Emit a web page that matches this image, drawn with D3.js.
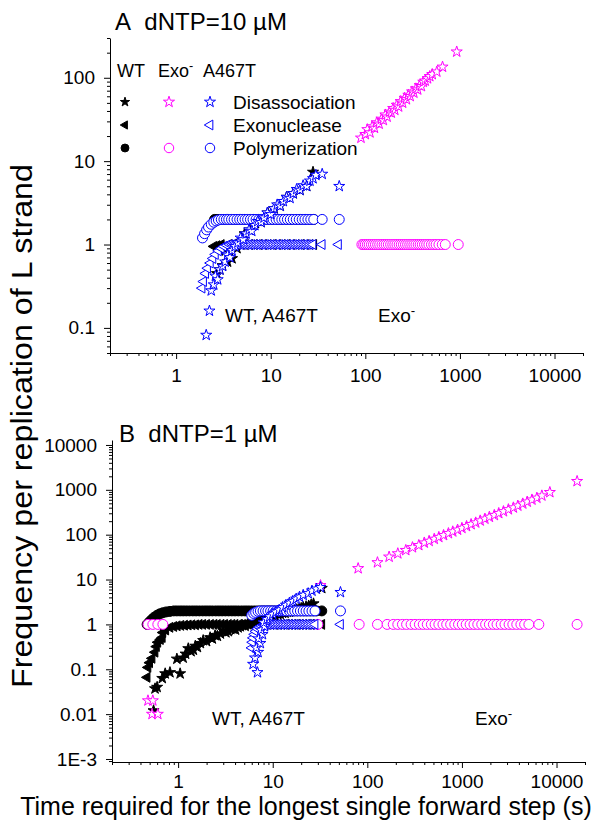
<!DOCTYPE html>
<html>
<head>
<meta charset="utf-8">
<script src="https://cdn.jsdelivr.net/npm/d3@7"></script>
<style>
body { margin: 0; background: #fff; }
svg { display: block; font-family: "Liberation Sans", Arial, sans-serif; }
</style>
</head>
<body>
<svg id="drawing_region"></svg>
<script>
// ---- data: [time (s), frequency per replication] ----
const x_ticks = [1, 10, 100, 1000, 10000];
const a_y_ticks = [0.1, 1, 10, 100];
const b_y_ticks = [0.001, 0.01, 0.1, 1, 10, 100, 1000, 10000];
const b_y_labels = ["1E-3", "0.01", "0.1", "1", "10", "100", "1000", "10000"];

// panel A, dNTP = 10 uM
const a_wt_diss = [[2.7,0.45],[2.9,0.5],[3.1,0.56],[3.5,0.62],[3.9,0.68],[4.4,0.9],[4.9,1.1],[5.3,1.35],[6.0,1.5],[6.9,1.8],[7.9,1.85],[8.6,2.1],[9.3,2.4],[10.9,2.7],[12.6,2.9],[14.7,3.7],[17.3,4.1],[20.4,4.5],[24,5.0],[28,7.4]];
const a_wt_exo = [[2.5,0.95],[2.7,0.97],[2.9,0.85],[3.0,1.0],[3.3,0.9],[3.6,1.0],[4.0,1.0],[4.4,1.0],[4.9,1.0],[5.4,1.0],[6.0,1.0],[6.7,1.0],[7.5,1.0],[8.4,1.0],[9.4,1.0],[10.5,1.0],[11.8,1.0],[13.2,1.0],[14.8,1.0],[16.6,1.0],[18.6,1.0],[20.8,1.0],[23.3,1.0],[26,1.0],[28.5,1.0]];
const a_wt_poly = [[2.55,2.0],[2.7,2.0],[2.9,2.0],[3.2,2.0],[3.5,2.0],[3.9,2.0],[4.3,2.0],[4.8,2.0],[5.3,2.0],[5.9,2.0],[6.6,2.0],[7.4,2.0],[8.3,2.0],[9.3,2.0],[10.4,2.0],[11.7,2.0],[13.1,2.0],[14.7,2.0],[16.5,2.0],[18.5,2.0],[20.7,2.0],[23.2,2.0],[26,2.0],[28.5,2.0]];
const a_exo_diss = [[90,19],[100,21],[105,24],[112,22],[118,26],[125,25],[132,29],[140,28],[148,32],[155,31],[163,36],[170,34],[180,39],[188,38],[197,43],[205,41],[215,47],[225,45],[236,52],[248,50],[260,57],[272,55],[285,62],[298,60],[312,68],[326,66],[342,74],[358,72],[375,81],[392,79],[410,89],[430,92],[455,98],[480,104],[510,110],[570,118],[655,135],[925,205]];
const a_exo_poly = [[92,1],[96,1],[100,1],[105,1],[110,1],[116,1],[122,1],[128,1],[135,1],[142,1],[150,1],[158,1],[166,1],[175,1],[185,1],[195,1],[205,1],[216,1],[228,1],[240,1],[253,1],[266,1],[280,1],[295,1],[310,1],[326,1],[343,1],[362,1],[380,1],[400,1],[422,1],[445,1],[470,1],[500,1],[530,1],[560,1],[600,1],[650,1],[700,1],[960,1]];
const a_mut_diss = [[2.08,0.082],[2.25,0.16],[2.35,0.28],[2.5,0.33],[2.6,0.42],[2.75,0.38],[2.9,0.5],[3.1,0.55],[3.3,0.62],[3.5,0.75],[3.7,0.7],[3.9,0.85],[4.2,0.95],[4.5,1.05],[4.8,1.2],[5.1,1.15],[5.5,1.35],[5.9,1.5],[6.3,1.45],[6.8,1.7],[7.3,1.9],[7.9,1.85],[8.5,2.1],[9.2,2.4],[10,2.3],[10.8,2.7],[11.7,3.0],[12.6,2.9],[13.6,3.3],[14.7,3.7],[16,3.6],[17.3,4.1],[18.8,4.6],[20.4,4.5],[22,5.1],[24,5.0],[26,5.8],[28,6.2],[30,6.8],[35,7.0],[53,5.0]];
const a_mut_exo = [[1.88,0.3],[1.95,0.36],[2.05,0.45],[2.15,0.52],[2.3,0.6],[2.45,0.68],[2.6,0.76],[2.8,0.84],[3.0,0.9],[3.2,0.95],[3.45,0.98],[3.7,1.0],[3.95,1.0],[4.2,1.0],[4.5,1.0],[4.8,1.0],[5.15,1.0],[5.5,1.0],[5.9,1.0],[6.3,1.0],[6.75,1.0],[7.2,1.0],[7.7,1.0],[8.25,1.0],[8.8,1.0],[9.4,1.0],[10.1,1.0],[10.8,1.0],[11.6,1.0],[12.4,1.0],[13.3,1.0],[14.2,1.0],[15.2,1.0],[16.3,1.0],[17.4,1.0],[18.6,1.0],[19.9,1.0],[21.3,1.0],[22.8,1.0],[24.4,1.0],[26.1,1.0],[28,1.0],[35,1.0],[52,1.0]];
const a_mut_poly = [[1.9,1.2],[2.0,1.35],[2.1,1.5],[2.2,1.62],[2.35,1.75],[2.5,1.85],[2.65,1.92],[2.8,1.97],[3.0,2.0],[3.2,2.0],[3.4,2.0],[3.6,2.0],[3.85,2.0],[4.1,2.0],[4.4,2.0],[4.7,2.0],[5.0,2.0],[5.35,2.0],[5.7,2.0],[6.1,2.0],[6.5,2.0],[7.0,2.0],[7.5,2.0],[8.0,2.0],[8.6,2.0],[9.2,2.0],[9.9,2.0],[10.6,2.0],[11.4,2.0],[12.2,2.0],[13.1,2.0],[14.0,2.0],[15.0,2.0],[16.1,2.0],[17.3,2.0],[18.6,2.0],[20,2.0],[21.5,2.0],[23,2.0],[24.7,2.0],[26.5,2.0],[28.5,2.0],[35,2.0],[53,2.0]];

// panel B, dNTP = 1 uM
const b_wt_diss = [[0.55,0.012],[0.57,0.037],[0.6,0.04],[0.68,0.063],[0.73,0.08],[0.82,0.085],[0.97,0.17],[1.05,0.08],[1.13,0.18],[1.2,0.22],[1.28,0.29],[1.37,0.25],[1.45,0.27],[1.52,0.33],[1.6,0.31],[1.72,0.38],[1.84,0.44],[2.0,0.42],[2.18,0.51],[2.3,0.48],[2.46,0.57],[2.6,0.55],[2.8,0.62],[3.0,0.73],[3.2,0.66],[3.4,0.7],[3.6,0.78],[3.8,0.8],[4.05,0.76],[4.3,0.85],[4.55,0.9],[4.8,0.95],[5.1,0.92],[5.4,1.0],[5.7,1.05],[6,1.1],[6.4,1.12],[6.8,1.2],[7.2,1.25],[7.6,1.3],[8.0,1.38],[8.5,1.4],[9.0,1.48],[9.5,1.5],[10.0,1.58],[10.6,1.6],[11.3,1.68],[12,1.7],[12.7,1.8],[13.5,1.8],[14.2,1.9],[15,1.9],[16,2.0],[17,2.0],[18,2.15],[19,2.2],[20,2.3],[21,2.4],[22.5,2.5],[24,2.6],[25.5,2.75],[27,2.9],[33,6.4]];
const b_wt_exo = [[0.47,0.066],[0.48,0.11],[0.5,0.14],[0.53,0.175],[0.57,0.24],[0.59,0.32],[0.61,0.4],[0.65,0.46],[0.68,0.51],[0.69,0.66],[0.74,0.75],[0.82,0.86],[0.9,0.9],[0.98,0.93],[1.07,0.95],[1.17,0.96],[1.28,0.97],[1.4,0.98],[1.53,0.98],[1.67,1.0],[1.82,1.0],[2.0,1.0],[2.2,1.0],[2.4,1.0],[2.6,1.0],[2.85,1.0],[3.1,1.0],[3.4,1.0],[3.7,1.0],[4.0,1.0],[4.4,1.0],[4.8,1.0],[5.2,1.0],[5.7,1.0],[6.2,1.0],[6.8,1.0],[7.4,1.0],[8.1,1.0],[8.8,1.0],[9.6,1.0],[10.5,1.0],[11.5,1.0],[12.5,1.0],[13.7,1.0],[15,1.0],[16.4,1.0],[17.9,1.0],[19.5,1.0],[21.3,1.0],[23.3,1.0],[25.4,1.0],[27.7,1.0],[33,1.0]];
const b_wt_poly = [[0.47,1.0],[0.5,1.15],[0.53,1.3],[0.56,1.45],[0.6,1.6],[0.64,1.72],[0.69,1.82],[0.75,1.9],[0.82,1.95],[0.9,2.0],[0.97,2.0],[1.05,2.0],[1.13,2.0],[1.22,2.0],[1.32,2.0],[1.43,2.0],[1.55,2.0],[1.68,2.0],[1.82,2.0],[1.97,2.0],[2.13,2.0],[2.3,2.0],[2.5,2.0],[2.7,2.0],[2.92,2.0],[3.16,2.0],[3.42,2.0],[3.7,2.0],[4.0,2.0],[4.33,2.0],[4.7,2.0],[5.1,2.0],[5.5,2.0],[5.95,2.0],[6.45,2.0],[7.0,2.0],[7.6,2.0],[8.2,2.0],[8.9,2.0],[9.6,2.0],[10.4,2.0],[11.3,2.0],[12.2,2.0],[13.2,2.0],[14.3,2.0],[15.5,2.0],[16.8,2.0],[18.2,2.0],[19.7,2.0],[21.3,2.0],[23,2.0],[25,2.0],[27,2.0],[29,2.0],[33,2.0]];
const b_exo_diss = [[0.48,0.02],[0.54,0.02],[0.53,0.01],[0.61,0.01],[32,7.4],[80,17.7],[128,24],[170,32],[210,38],[255,45],[300,52],[350,58],[400,66],[450,72],[510,80],[570,88],[640,97],[720,107],[800,117],[900,128],[1000,140],[1120,154],[1250,170],[1400,185],[1560,205],[1750,225],[1950,248],[2200,272],[2450,300],[2750,330],[3100,365],[3500,400],[3900,440],[4400,490],[4900,540],[5500,600],[6200,660],[7000,740],[8500,880],[16500,1550]];
const b_exo_poly = [[0.48,1],[0.54,1],[0.61,1],[0.69,1],[30,1],[82,1],[128,1],[162,1],[188,1],[210,1],[235,1],[260,1],[290,1],[320,1],[355,1],[390,1],[430,1],[475,1],[520,1],[570,1],[630,1],[690,1],[760,1],[840,1],[920,1],[1010,1],[1110,1],[1220,1],[1340,1],[1470,1],[1620,1],[1780,1],[1950,1],[2150,1],[2350,1],[2600,1],[2850,1],[3150,1],[3450,1],[3800,1],[4200,1],[4600,1],[5100,1],[6500,1],[16500,1]];
const b_mut_diss = [[6.9,0.085],[6.2,0.13],[6.5,0.18],[7.0,0.24],[6.7,0.3],[7.4,0.38],[7.1,0.48],[7.8,0.6],[7.5,0.75],[8.2,0.9],[8.0,1.1],[8.7,1.3],[9.3,1.5],[10,1.7],[10.8,1.9],[11.7,2.1],[12.7,2.4],[13.8,2.7],[15,3.0],[16.3,3.3],[17.7,3.7],[19.2,4.1],[21,4.5],[23.7,4.9],[26,5.6],[29,6.2],[32,6.7],[52,5.2]];
const b_mut_exo = [[6.0,0.3],[6.1,0.4],[6.2,0.5],[6.4,0.6],[6.6,0.7],[6.9,0.8],[7.2,0.87],[7.6,0.93],[8.0,0.97],[8.5,1.0],[9.0,1.0],[9.6,1.0],[10.2,1.0],[10.9,1.0],[11.6,1.0],[12.4,1.0],[13.2,1.0],[14.1,1.0],[15.1,1.0],[16.1,1.0],[17.2,1.0],[18.4,1.0],[19.7,1.0],[21.1,1.0],[22.6,1.0],[24.2,1.0],[26,1.0],[28,1.0],[52,1.0]];
const b_mut_poly = [[6.0,1.6],[6.3,1.75],[6.6,1.85],[7.0,1.95],[7.4,2.0],[7.9,2.0],[8.4,2.0],[8.9,2.0],[9.5,2.0],[10.1,2.0],[10.8,2.0],[11.5,2.0],[12.3,2.0],[13.1,2.0],[14.0,2.0],[15.0,2.0],[16.0,2.0],[17.1,2.0],[18.3,2.0],[19.6,2.0],[21,2.0],[22.5,2.0],[24.1,2.0],[26,2.0],[28,2.0],[52,2.0]];

// ---- drawing ----
const W = 603, H = 832;
const svg = d3.select('#drawing_region').attr('width', W).attr('height', H);

const colors = { wt: '#000000', exo: '#ff00ff', mut: '#0000ff' };
const sizes = { diss: 38, exo: 42, poly: 78 };
const types = { diss: d3.symbolStar, exo: d3.symbolTriangle, poly: d3.symbolCircle };

function drawPoints(g, x, y, data, kind, color, filled) {
    const sym = d3.symbol().type(types[kind]).size(sizes[kind]);
    g.append('g').selectAll('path')
        .data(data)
        .enter()
        .append('path')
        .attr('d', sym)
        .attr('transform', d => `translate(${x(d[0])},${y(d[1])})` + (kind === 'exo' ? ' rotate(-90)' : ''))
        .attr('fill', filled ? color : '#fff')
        .attr('stroke', color)
        .attr('stroke-width', 1);
}

function drawAxes(g, x, y, yTicks, yFormat, xPad) {
    const bottom = y.range()[0], left = x.range()[0];
    const xminor = x.ticks().filter(v => !x_ticks.some(t => Math.abs(t - v) / t < 1e-6));
    const yminor = y.ticks().filter(v => !yTicks.some(t => Math.abs(t - v) / t < 1e-6));

    const xa = g.append('g').attr('transform', `translate(0,${bottom})`);
    xa.append('g').call(d3.axisBottom(x).tickValues(xminor).tickSize(3).tickFormat(''))
        .call(s => s.select('.domain').remove());
    xa.append('g').call(d3.axisBottom(x).tickValues(x_ticks).tickSize(6).tickSizeOuter(0)
        .tickPadding(xPad).tickFormat(d3.format('d')));

    const ya = g.append('g').attr('transform', `translate(${left},0)`);
    ya.append('g').call(d3.axisLeft(y).tickValues(yminor).tickSize(3).tickFormat(''))
        .call(s => s.select('.domain').remove());
    ya.append('g').call(d3.axisLeft(y).tickValues(yTicks).tickSize(6).tickSizeOuter(0)
        .tickPadding(9).tickFormat(yFormat));

    g.selectAll('.tick text').attr('font-size', 19).attr('font-family', '"Liberation Sans", Arial, sans-serif').attr('fill', '#000');
    g.selectAll('.domain, .tick line').attr('stroke', '#000').attr('stroke-width', 1);
}

function exoText(g, x, y, size) {
    const t = g.append('text').attr('x', x).attr('y', y).attr('font-size', size);
    t.append('tspan').text('Exo');
    t.append('tspan').attr('dy', -7).attr('font-size', size * 0.7).text('-');
    return t;
}

// panel A
const ax = d3.scaleLog().domain([0.2, 20000]).range([110, 583]);
const ay = d3.scaleLog().domain([0.05, 300]).range([353, 38]);
const ga = svg.append('g');
drawAxes(ga, ax, ay, a_y_ticks, d => String(d), 10);

drawPoints(ga, ax, ay, a_wt_poly, 'poly', colors.wt, true);
drawPoints(ga, ax, ay, a_wt_exo, 'exo', colors.wt, true);
drawPoints(ga, ax, ay, a_wt_diss, 'diss', colors.wt, true);
drawPoints(ga, ax, ay, a_exo_poly, 'poly', colors.exo, false);
drawPoints(ga, ax, ay, a_exo_diss, 'diss', colors.exo, false);
drawPoints(ga, ax, ay, a_mut_poly, 'poly', colors.mut, false);
drawPoints(ga, ax, ay, a_mut_exo, 'exo', colors.mut, false);
drawPoints(ga, ax, ay, a_mut_diss, 'diss', colors.mut, false);

ga.append('text').attr('x', 115).attr('y', 30).attr('font-size', 24).text('A\u00a0\u00a0dNTP=10 \u00b5M');

// legend
const lg = ga.append('g').attr('font-size', 18);
lg.append('text').attr('x', 117).attr('y', 77).text('WT');
exoText(lg, 158, 77, 18);
lg.append('text').attr('x', 203).attr('y', 77).text('A467T');
const rows = [['diss', 'Disassociation', 102], ['exo', 'Exonuclease', 125], ['poly', 'Polymerization', 148]];
rows.forEach(r => {
    const kind = r[0], yy = r[2];
    const cols = [[125, colors.wt, true, 0.7], [169, colors.exo, false, 1], [210, colors.mut, false, 1]];
    cols.forEach(c => {
        if (kind === 'exo' && c[1] === colors.exo) return;
        lg.append('path')
            .attr('d', d3.symbol().type(types[kind]).size(sizes[kind] * c[3] * (kind === 'poly' ? 0.9 : 1)))
            .attr('transform', `translate(${c[0]},${yy})` + (kind === 'exo' ? ' rotate(-90)' : ''))
            .attr('fill', c[2] ? c[1] : '#fff')
            .attr('stroke', c[1]).attr('stroke-width', 1);
    });
    lg.append('text').attr('x', 233).attr('y', yy + 7).attr('font-size', 19).text(r[1]);
});

ga.append('text').attr('x', 225).attr('y', 322).attr('font-size', 19).text('WT, A467T');
exoText(ga, 378, 322, 19);

// panel B
const bx = d3.scaleLog().domain([0.2, 20000]).range([112, 585]);
const by = d3.scaleLog().domain([0.000857, 12900]).range([762, 440]);
const gb = svg.append('g');
drawAxes(gb, bx, by, b_y_ticks, (d, i) => b_y_labels[i], 6.5);

drawPoints(gb, bx, by, b_wt_poly, 'poly', colors.wt, true);
drawPoints(gb, bx, by, b_wt_exo, 'exo', colors.wt, true);
drawPoints(gb, bx, by, b_wt_diss, 'diss', colors.wt, true);
drawPoints(gb, bx, by, b_exo_poly, 'poly', colors.exo, false);
drawPoints(gb, bx, by, b_exo_diss, 'diss', colors.exo, false);
drawPoints(gb, bx, by, b_mut_poly, 'poly', colors.mut, false);
drawPoints(gb, bx, by, b_mut_exo, 'exo', colors.mut, false);
drawPoints(gb, bx, by, b_mut_diss, 'diss', colors.mut, false);

gb.append('text').attr('x', 119).attr('y', 442).attr('font-size', 24).text('B\u00a0\u00a0dNTP=1 \u00b5M');
gb.append('text').attr('x', 212).attr('y', 725).attr('font-size', 19).text('WT, A467T');
exoText(gb, 475, 725, 19);

// axis titles
svg.append('text').attr('x', 306).attr('y', 815).attr('font-size', 25).attr('text-anchor', 'middle')
    .text('Time required for the longest single forward step (s)');
svg.append('text').attr('transform', 'translate(32,426) rotate(-90)').attr('font-size', 30).attr('text-anchor', 'middle')
    .attr('textLength', 524).attr('lengthAdjust', 'spacingAndGlyphs')
    .text('Frequency per replication of L strand');
</script>
</body>
</html>
